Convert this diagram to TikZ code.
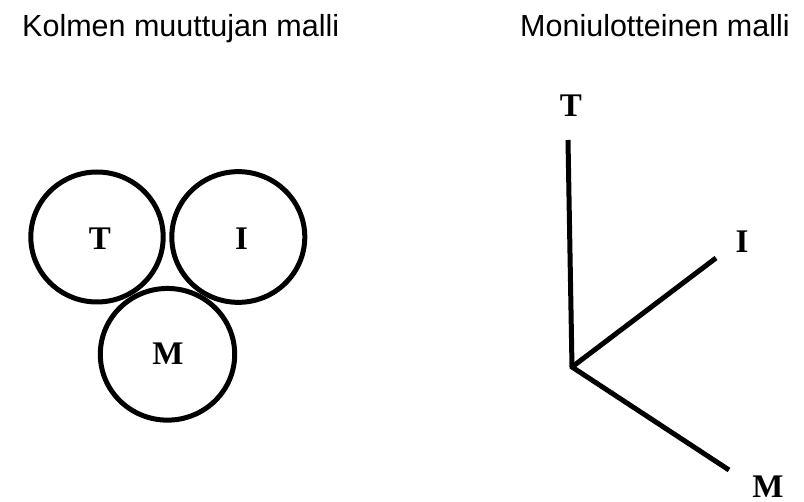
\documentclass[tikz,border=0pt]{standalone}
\usepackage{fontspec}
\setmainfont{Liberation Serif}
\newfontfamily\titlefont{Liberation Sans}
\usetikzlibrary{shapes.geometric}
\begin{document}
\begin{tikzpicture}[x=1pt,y=-1pt,
  ring/.style={draw=black,line width=5pt,ellipse,inner sep=0pt,outer sep=0pt},
  axis/.style={draw=black,line width=5pt},
  lbl/.style={inner sep=0pt,font=\fontsize{33}{38}\selectfont\bfseries},
  ttl/.style={inner sep=0pt,anchor=base west,font=\titlefont\fontsize{30.5}{36}\selectfont}]
\useasboundingbox (0,0) rectangle (804,502);
% titles
\node[ttl] (t1) at (22,37) {Kolmen muuttujan malli};
\node[ttl] (t2) at (520,37) {Moniulotteinen malli};
% left: three circles
\node[ring,minimum width=132.4pt,minimum height=130pt] (cT) at (97,237) {};
\node[ring,minimum width=133pt,minimum height=130.7pt] (cI) at (238.3,237) {};
\node[ring,minimum width=134.4pt,minimum height=131.7pt] (cM) at (167.5,354.3) {};
\node[lbl] (lT) at (100,239) {T};
\node[lbl] (lI) at (241.5,239) {I};
\node[lbl] (lM) at (168,354) {M};
% right: axes
\coordinate (O) at (572,367);
\coordinate (Te) at (568,140);
\coordinate (Ie) at (716,258);
\coordinate (Me) at (729,470);
\draw[axis] (Te) -- (O) -- (Me);
\draw[axis] (O) -- (Ie);
\node[lbl] (aT) at (571,106) {T};
\node[lbl] (aI) at (742,242) {I};
\node[lbl] (aM) at (768,487) {M};
\end{tikzpicture}
\end{document}
